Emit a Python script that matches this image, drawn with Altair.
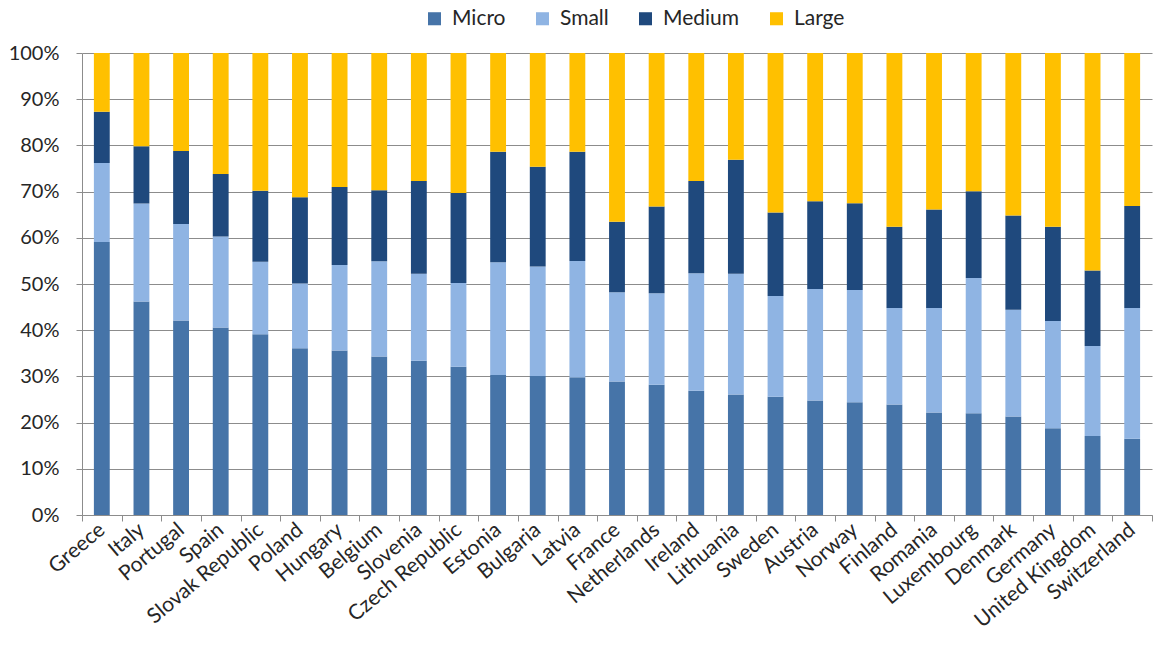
import altair as alt
import pandas as pd

countries = ["Greece", "Italy", "Portugal", "Spain", "Slovak Republic", "Poland", "Hungary",
             "Belgium", "Slovenia", "Czech Republic", "Estonia", "Bulgaria", "Latvia", "France",
             "Netherlands", "Ireland", "Lithuania", "Sweden", "Austria", "Norway", "Finland",
             "Romania", "Luxembourg", "Denmark", "Germany", "United Kingdom", "Switzerland"]
micro = [59.1, 46.2, 42.1, 40.6, 39.1, 36.1, 35.6, 34.3, 33.4, 32.1, 30.3, 30.1, 29.8, 28.9,
         28.2, 26.9, 26.1, 25.6, 24.8, 24.4, 23.9, 22.2, 22.0, 21.3, 18.8, 17.1, 16.5]
small = [17.1, 21.2, 20.9, 19.7, 15.7, 14.0, 18.5, 20.6, 18.8, 18.1, 24.4, 23.7, 25.2, 19.3,
         19.8, 25.4, 26.1, 21.8, 24.1, 24.3, 20.9, 22.6, 29.3, 23.1, 23.2, 19.5, 28.3]
medium = [11.1, 12.4, 15.8, 13.5, 15.4, 18.7, 16.9, 15.4, 20.1, 19.5, 23.9, 21.6, 23.6, 15.3,
          18.8, 20.0, 24.7, 18.1, 19.0, 18.8, 17.6, 21.3, 18.8, 20.4, 20.4, 16.3, 22.1]
large = [12.7, 20.2, 21.2, 26.2, 29.8, 31.2, 29.0, 29.7, 27.7, 30.3, 21.4, 24.6, 21.4, 36.5,
         33.2, 27.7, 23.1, 34.5, 32.1, 32.5, 37.6, 33.9, 29.9, 35.2, 37.6, 47.1, 33.1]

sizes = ["Micro", "Small", "Medium", "Large"]
colors = ["#4674A8", "#8FB4E3", "#1F497D", "#FFC000"]

rows = []
for i, c in enumerate(countries):
    for k, (name, series) in enumerate(zip(sizes, [micro, small, medium, large])):
        rows.append({"country": c, "size": name, "order": k, "value": series[i]})
df = pd.DataFrame(rows)

FONT = "Lato"
TEXT = "#262626"
GRID = "#8c8c8c"

chart = alt.Chart(df).mark_bar(width=alt.RelativeBandSize(0.4)).encode(
    x=alt.X("country:N", sort=countries,
            scale=alt.Scale(paddingInner=0, paddingOuter=0),
            axis=alt.Axis(title=None, labelAngle=-40, labelAlign="right", labelBaseline="middle",
                          tickBand="extent", tickSize=6, tickColor=GRID, domainColor=GRID,
                          labelFontSize=21, labelPadding=6, labelColor=TEXT, labelFont=FONT,
                          grid=False)),
    y=alt.Y("value:Q", stack="zero",
            scale=alt.Scale(domain=[0, 100], nice=False),
            axis=alt.Axis(title=None, values=list(range(0, 101, 10)),
                          labelExpr="datum.value + '%'", tickSize=6, tickColor=GRID,
                          domainColor=GRID, gridColor=GRID, gridWidth=1,
                          labelFontSize=20, labelPadding=17, labelColor=TEXT, labelFont=FONT)),
    color=alt.Color("size:N", sort=sizes,
                    scale=alt.Scale(domain=sizes, range=colors),
                    legend=alt.Legend(title=None, orient="none", direction="horizontal",
                                      legendX=342, legendY=-45, symbolType="square",
                                      symbolSize=170, symbolStrokeWidth=0,
                                      labelFontSize=21, labelFont=FONT, labelColor=TEXT,
                                      columnPadding=26, labelOffset=7, labelLimit=200)),
    order=alt.Order("order:Q"),
).properties(
    width=1070, height=462,
    padding={"left": 0, "top": 0, "right": 0, "bottom": 0},
).configure_view(stroke=None)

chart.save("out.html", embed_options={"renderer": "svg", "actions": False})
